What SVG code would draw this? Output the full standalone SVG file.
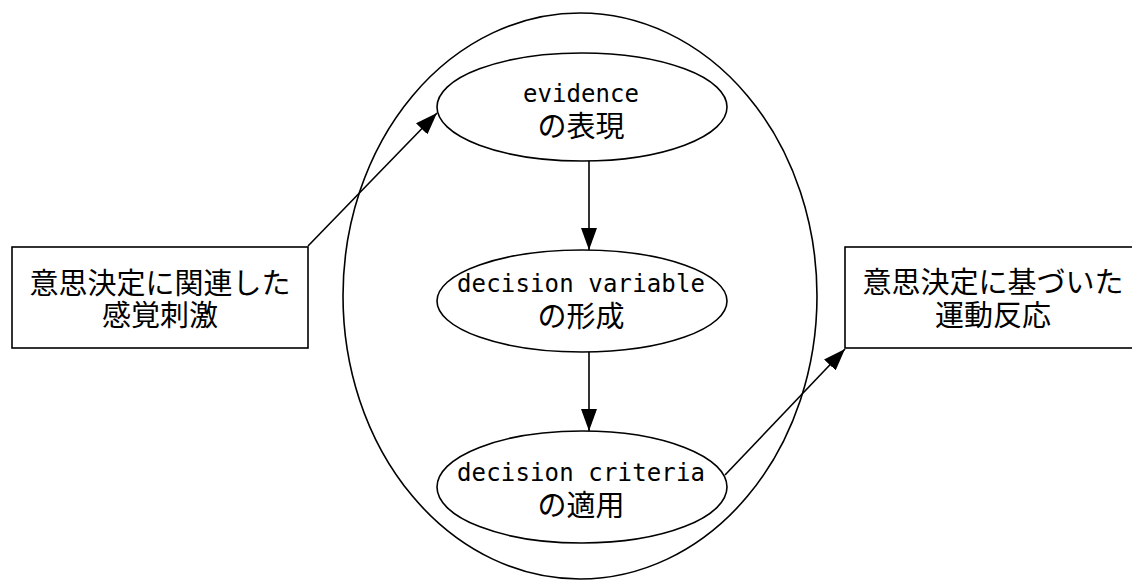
<svg xmlns="http://www.w3.org/2000/svg" width="1132" height="580" viewBox="0 0 1132 580">
<style>
.shape{fill:#fff;stroke:#000;stroke-width:1.6}
.edge{stroke:#000;stroke-width:1.6;fill:none}
.lat{font-family:"DejaVu Sans Mono","Liberation Mono",monospace;font-size:24px;text-anchor:middle;fill:#000}
.jp{font-family:"Noto Sans CJK JP",sans-serif;font-size:29px;text-anchor:middle;fill:#000}
</style>
<defs>
<marker id="ah" viewBox="0 0 22 16" refX="22" refY="8" markerWidth="22" markerHeight="16" markerUnits="userSpaceOnUse" orient="auto">
<path d="M0,0 L22,8 L0,16 Z" fill="#000"/>
</marker>
</defs>
<rect width="1132" height="580" fill="#fff"/>
<g id="outer">
<ellipse class="shape" cx="580" cy="296" rx="237" ry="283"/>
</g>
<g id="n1">
<ellipse class="shape" cx="582" cy="107" rx="145" ry="54"/>
<text class="lat" x="581" y="102" textLength="116" lengthAdjust="spacing">evidence</text>
<text class="jp" x="581" y="137">の表現</text>
</g>
<g id="n2">
<ellipse class="shape" cx="582" cy="301" rx="145" ry="51"/>
<text class="lat" x="581" y="292" textLength="248" lengthAdjust="spacing">decision variable</text>
<text class="jp" x="581" y="327">の形成</text>
</g>
<g id="n3">
<ellipse class="shape" cx="582" cy="487" rx="145" ry="56"/>
<text class="lat" x="581" y="481" textLength="248" lengthAdjust="spacing">decision criteria</text>
<text class="jp" x="581" y="516">の適用</text>
</g>
<g id="in">
<rect class="shape" x="12" y="247" width="296" height="101"/>
<text class="jp" x="160" y="294">意思決定に関連した</text>
<text class="jp" x="160" y="326">感覚刺激</text>
</g>
<g id="out">
<rect class="shape" x="845" y="247" width="296" height="101"/>
<text class="jp" x="993" y="293">意思決定に基づいた</text>
<text class="jp" x="993" y="326">運動反応</text>
</g>
<g id="connectors">
<line class="edge" x1="308" y1="246" x2="437" y2="113" marker-end="url(#ah)"/>
<line class="edge" x1="589" y1="161" x2="589" y2="250" marker-end="url(#ah)"/>
<line class="edge" x1="589" y1="352" x2="589" y2="431" marker-end="url(#ah)"/>
<line class="edge" x1="725" y1="475" x2="845" y2="349" marker-end="url(#ah)"/>
</g>
</svg>
